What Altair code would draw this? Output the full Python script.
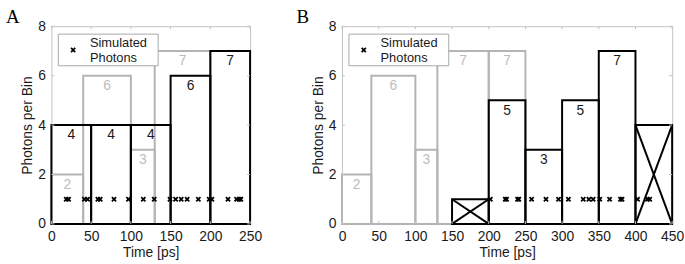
import altair as alt
import pandas as pd

# ---------------- data ----------------
# Panel A
a_gray_edges = [0, 40, 100, 130, 200]
a_gray_counts = [2, 6, 3, 7]
a_black_edges = [0, 50, 100, 150, 200, 250]
a_black_counts = [4, 4, 4, 6, 7]
a_crossed = [False, False, False, False, False]
a_photons = [18.7, 21.6, 41.5, 45.6, 58.5, 61.4, 78.8, 97.0, 115.7, 129.4,
             149.3, 156.3, 163.3, 170.8, 184.9, 198.6, 201.9, 222.2, 233.0,
             236.5, 238.4]

# Panel B
b_gray_edges = [0, 40, 100, 130, 200, 250]
b_gray_counts = [2, 6, 3, 7, 7]
b_black_edges = [150, 200, 250, 300, 350, 400, 450]
b_black_counts = [1, 5, 3, 5, 7, 4]
b_crossed = [True, False, False, False, False, True]
b_photons = [202.2, 222.5, 224.3, 239.3, 241.0, 258.4, 278.0, 295.1, 308.6,
             328.8, 336.5, 342.3, 351.3, 364.7, 379.6, 381.7, 402.9, 416.3,
             419.4]

photon_level = 1
y_ticks = [0, 2, 4, 6, 8]
a_x_ticks = [0, 50, 100, 150, 200, 250]
b_x_ticks = [0, 50, 100, 150, 200, 250, 300, 350, 400, 450]
legend_lines = ["Simulated", "Photons"]

# ---------------- styles ----------------
FONT = "Liberation Sans"
SERIF = "Liberation Serif"
GRAY = "#b4b4b4"
GRAY_TXT = "#bdbdbd"
FRAME = "#c2c2c2"
TXT = "#1a1a1a"
H = 200
TICK = 3


def bins_df(edges, counts, crossed=None):
    rows = []
    for i, c in enumerate(counts):
        cr = bool(crossed[i]) if crossed else False
        rows.append({
            "x0": edges[i], "x1": edges[i + 1], "h": c,
            "xc": (edges[i] + edges[i + 1]) / 2, "ly": c - 0.42,
            "label": "" if cr else str(c), "crossed": cr,
        })
    return pd.DataFrame(rows)


def cross_df(bdf):
    rows = []
    for _, r in bdf[bdf["crossed"]].iterrows():
        rows.append({"xa": r.x0, "ya": 0, "xb": r.x1, "yb": r.h})
        rows.append({"xa": r.x0, "ya": r.h, "xb": r.x1, "yb": 0})
    return pd.DataFrame(rows, columns=["xa", "ya", "xb", "yb"])


def panel(letter, gray_edges, gray_counts, black_edges, black_counts, crossed,
          photons, xticks, xmax, width):
    xax = alt.Axis(values=xticks, labelPadding=6, titlePadding=2, labelFlush=False,
                   labelOverlap=False, labelSeparation=0, title="Time [ps]")
    yax = alt.Axis(values=y_ticks, labelPadding=6, titlePadding=3, labelFlush=False,
                   labelOverlap=False, title="Photons per Bin")
    xs = alt.Scale(domain=[0, xmax], nice=False, zero=False)
    ys = alt.Scale(domain=[0, 8], nice=False)

    def X(f):
        return alt.X(f, scale=xs, axis=xax)

    def Y(f):
        return alt.Y(f, scale=ys, axis=yax)

    gdf = bins_df(gray_edges, gray_counts)
    bdf = bins_df(black_edges, black_counts, crossed)
    cdf = cross_df(bdf)
    pdf = pd.DataFrame({"t": photons, "y": [photon_level] * len(photons)})
    xt = pd.DataFrame({"v": xticks})
    yt = pd.DataFrame({"v": y_ticks})
    one = pd.DataFrame({"a": [0]})

    gray = alt.Chart(gdf).mark_rect(fillOpacity=0, stroke=GRAY, strokeWidth=2).encode(
        x=X("x0:Q"), x2="x1:Q", y=Y("h:Q"), y2=alt.datum(0))
    black = alt.Chart(bdf).mark_rect(fillOpacity=0, stroke="black", strokeWidth=2).encode(
        x=X("x0:Q"), x2="x1:Q", y=Y("h:Q"), y2=alt.datum(0))
    layers = [gray, black]
    if len(cdf):
        layers.append(alt.Chart(cdf).mark_rule(color="black", strokeWidth=2).encode(
            x=X("xa:Q"), x2="xb:Q", y=Y("ya:Q"), y2="yb:Q"))
    pts = alt.Chart(pdf).mark_point(
        shape="M-1,-1L1,1M-1,1L1,-1", filled=False, stroke="black",
        strokeWidth=1.8, size=18, opacity=1).encode(x=X("t:Q"), y=Y("y:Q"))
    gtxt = alt.Chart(gdf).mark_text(font=FONT, fontSize=14, color=GRAY_TXT,
                                    baseline="middle").encode(
        x=X("xc:Q"), y=Y("ly:Q"), text="label:N")
    btxt = alt.Chart(bdf).mark_text(font=FONT, fontSize=14, color=TXT,
                                    baseline="middle").encode(
        x=X("xc:Q"), y=Y("ly:Q"), text="label:N")
    # inward ticks on all four sides
    tk = dict(color=FRAME, strokeWidth=1)
    tb = alt.Chart(xt).mark_rule(**tk).encode(
        x=X("v:Q"), y=alt.value(H), y2=alt.value(H - TICK))
    tt = alt.Chart(xt).mark_rule(**tk).encode(
        x=X("v:Q"), y=alt.value(0), y2=alt.value(TICK))
    tl = alt.Chart(yt).mark_rule(**tk).encode(
        y=Y("v:Q"), x=alt.value(0), x2=alt.value(TICK))
    tr = alt.Chart(yt).mark_rule(**tk).encode(
        y=Y("v:Q"), x=alt.value(width), x2=alt.value(width - TICK))
    # legend
    lbox = alt.Chart(one).mark_rect(fill="white", stroke="#a8a8a8", strokeWidth=1).encode(
        x=alt.value(7), x2=alt.value(108), y=alt.value(8), y2=alt.value(40))
    lpt = alt.Chart(one).mark_point(
        shape="M-1,-1L1,1M-1,1L1,-1", filled=False, stroke="black",
        strokeWidth=1.8, size=18, opacity=1).encode(x=alt.value(22), y=alt.value(24))
    ltxt = alt.Chart(one).mark_text(text=legend_lines, font=FONT, fontSize=13,
                                    color=TXT, align="left", baseline="alphabetic",
                                    lineHeight=15).encode(
        x=alt.value(39), y=alt.value(21))
    let = alt.Chart(one).mark_text(text=letter, font=SERIF, fontSize=19, color="black",
                                   align="left", baseline="alphabetic").encode(
        x=alt.value(-46), y=alt.value(-3))
    layers += [pts, tb, tt, tl, tr, gtxt, btxt, lbox, lpt, ltxt, let]
    return alt.layer(*layers).properties(width=width, height=H)


A = panel("A", a_gray_edges, a_gray_counts, a_black_edges, a_black_counts, a_crossed,
          a_photons, a_x_ticks, 250, 201)
B = panel("B", b_gray_edges, b_gray_counts, b_black_edges, b_black_counts, b_crossed,
          b_photons, b_x_ticks, 450, 334)

chart = alt.hconcat(A, B, spacing=33).properties(
    padding={"left": 5, "top": 6, "right": 0, "bottom": 0}
).configure_view(stroke=FRAME, strokeWidth=1).configure_axis(
    domain=False, ticks=False, grid=False, labelOverlap=False, labelFlush=False,
    labelFont=FONT, labelFontSize=14, labelColor=TXT,
    titleFont=FONT, titleFontSize=14, titleFontWeight="normal", titleColor=TXT,
)

chart.save("out.html", embed_options={"renderer": "svg", "actions": False})
